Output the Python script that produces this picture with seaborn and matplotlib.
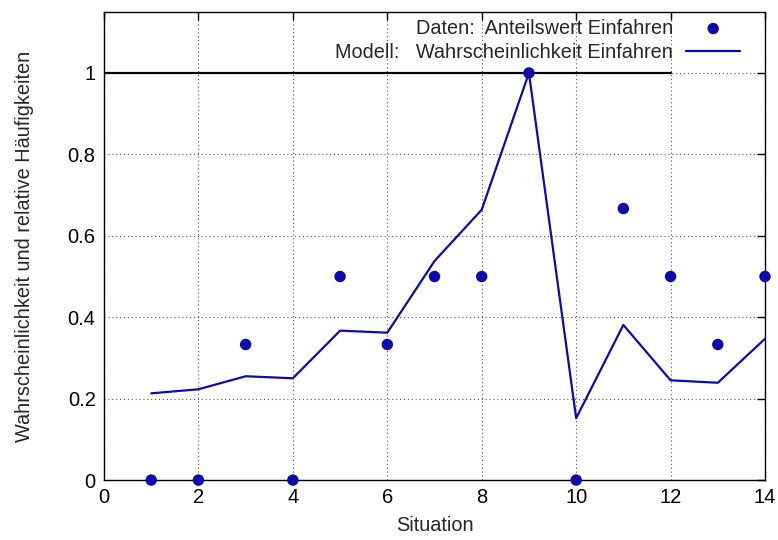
import numpy as np
import pandas as pd
import matplotlib
matplotlib.use("Agg")
import matplotlib.pyplot as plt
import seaborn as sns

# Daten
situation = [1, 2, 3, 4, 5, 6, 7, 8, 9, 10, 11, 12, 13, 14]
anteilswert = [0, 0, 0.333, 0, 0.5, 0.333, 0.5, 0.5, 1.0, 0, 0.667, 0.5, 0.333, 0.5]
wahrscheinlichkeit = [0.213, 0.223, 0.255, 0.250, 0.367, 0.362, 0.538, 0.664,
                      1.0, 0.152, 0.381, 0.245, 0.239, 0.347]
ref_x = [0, 12]
ref_y = [1, 1]

blau = "#0c0ca8"

sns.set_style("white")
plt.rcParams["font.family"] = ["Liberation Sans", "DejaVu Sans"]

df = pd.DataFrame({"Situation": situation, "Daten": anteilswert, "Modell": wahrscheinlichkeit})

fig = plt.figure(figsize=(7.78, 5.4), dpi=100)
ax = fig.add_axes([0.1337, 0.111, 0.8496, 0.867])

ax.plot(ref_x, ref_y, color="black", lw=1.6, zorder=2)
sns.lineplot(data=df, x="Situation", y="Modell", color=blau, lw=1.6, ax=ax,
             label="Modell:   Wahrscheinlichkeit Einfahren", zorder=3)
sns.scatterplot(data=df, x="Situation", y="Daten", color=blau, s=68, edgecolor="none",
                ax=ax, label="Daten:  Anteilswert Einfahren", zorder=4, clip_on=False)

ax.set_xlim(0, 14)
ax.set_ylim(0, 1.15)
ax.set_xticks(np.arange(0, 15, 2))
ax.set_yticks([0, 0.2, 0.4, 0.6, 0.8, 1])
ax.set_yticklabels(["0", "0.2", "0.4", "0.6", "0.8", "1"])
ax.grid(True, color="#555555", linestyle=(0, (1, 2.5)), linewidth=0.8)
ax.tick_params(direction="in", length=6, width=1, top=True, right=True,
               labelsize=14.5, colors="black", pad=6)
for sp in ax.spines.values():
    sp.set_color("black")
    sp.set_linewidth(1)

ax.set_xlabel("Situation", fontsize=14.3, labelpad=6)
ax.set_ylabel("Wahrscheinlichkeit und relative Häufigkeiten", fontsize=14.3, labelpad=24)

h, l = ax.get_legend_handles_labels()
leg = ax.legend(h[::-1], l[::-1], loc="upper right", bbox_to_anchor=(0.9895, 1.0235),
                frameon=False, markerfirst=False, fontsize=14.3, handlelength=2.72,
                labelspacing=0.25, handletextpad=0.65)

fig.savefig("out.png", dpi=100)
